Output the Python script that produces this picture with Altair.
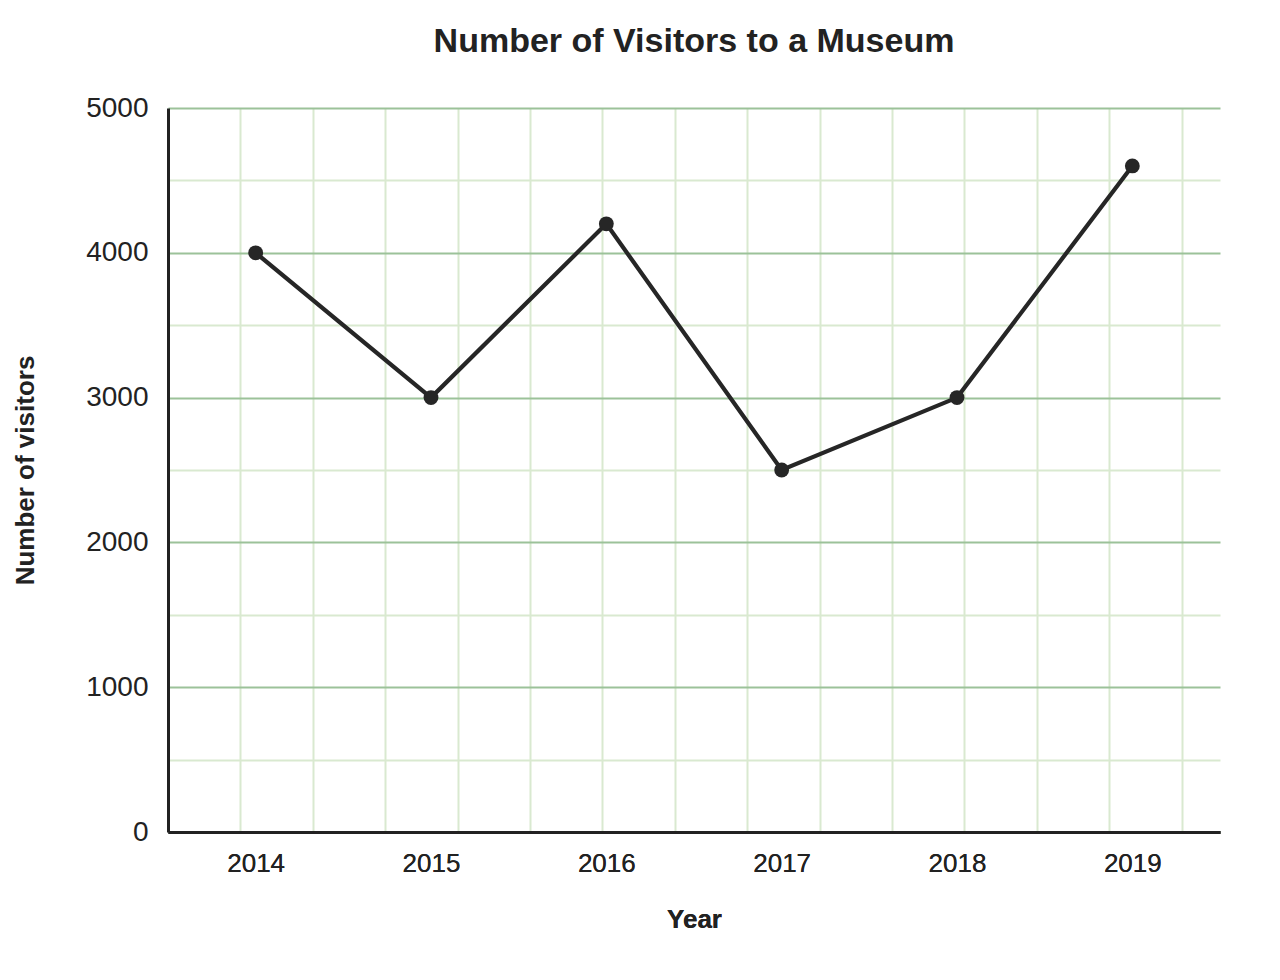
import altair as alt
import pandas as pd

# ---- data ----
years = ["2014", "2015", "2016", "2017", "2018", "2019"]
visitors = [4000, 3000, 4200, 2500, 3000, 4600]

df = pd.DataFrame({"Year": years, "Visitors": visitors})

# ---- layout / style ----
W, H = 1052, 724
Y_MAX = 5000
MAJOR = 1000
MINOR = 500
FONT = "Liberation Sans"
INK = "#222222"
LINE = "#262626"
MAJOR_C = "#9cc299"
MINOR_C = "#d9e9d0"

x_grid_max = W / H * Y_MAX  # keeps square grid cells

grid_layer = alt.Chart(df).mark_rule(opacity=0).encode(
    x=alt.X(
        "Visitors:Q",
        scale=alt.Scale(domain=[0, x_grid_max], nice=False, zero=True),
        axis=alt.Axis(
            values=list(range(MINOR, int(x_grid_max) + 1, MINOR)),
            grid=True, gridColor=MINOR_C, gridWidth=2,
            labels=False, ticks=False, domain=False, title=None,
            orient="bottom", zindex=0,
        ),
    )
)

base = alt.Chart(df).encode(
    x=alt.X(
        "Year:N", sort=years,
        axis=alt.Axis(
            orient="bottom",
            title="Year", grid=False, domainColor=INK, domainWidth=3,
            ticks=False, tickSize=0, labelPadding=18, labelFontSize=26,
            labelFont=FONT, labelColor=INK, labelAngle=0,
            titleFont=FONT, titleFontSize=26, titleFontWeight="bold",
            titleColor=INK, titleX=W / 2, titleY=95,
            titleBaseline="alphabetic", titleAlign="center", zindex=1,
        ),
    ),
    y=alt.Y(
        "Visitors:Q",
        scale=alt.Scale(domain=[0, Y_MAX], nice=False),
        axis=alt.Axis(
            title="Number of visitors",
            values=list(range(0, Y_MAX + 1, MINOR)),
            format="d",
            labelExpr=f"datum.value % {MAJOR} === 0 ? datum.label : ''",
            grid=True,
            gridColor={"condition": {"test": f"datum.value % {MAJOR} === 0", "value": MAJOR_C}, "value": MINOR_C},
            gridWidth=2,
            domainColor=INK, domainWidth=3, ticks=False, tickSize=0,
            labelPadding=20, labelFontSize=28, labelFont=FONT, labelColor=INK,
            titleFont=FONT, titleFontSize=26, titleFontWeight="bold",
            titleColor=INK, titleX=-135, titleY=H / 2, titleAngle=270,
            titleBaseline="alphabetic", titleAlign="center", zindex=0,
        ),
    ),
)

line = base.mark_line(color=LINE, strokeWidth=4.2)
points = base.mark_circle(color=LINE, size=220, opacity=1)

chart = (
    alt.layer(grid_layer, line, points)
    .resolve_scale(x="independent")
    .resolve_axis(x="independent")
    .properties(
        width=W, height=H,
        title=alt.Title(
            "Number of Visitors to a Museum",
            fontSize=34, font=FONT, fontWeight="bold", color=INK,
            anchor="middle", frame="group", offset=8, baseline="alphabetic",
        ),
        autosize=alt.AutoSizeParams(type="none"),
        padding={"left": 160, "top": 100, "right": 40, "bottom": 130},
    )
    .configure_view(stroke=None)
)

chart.save("out.html", embed_options={"renderer": "svg", "actions": False})
